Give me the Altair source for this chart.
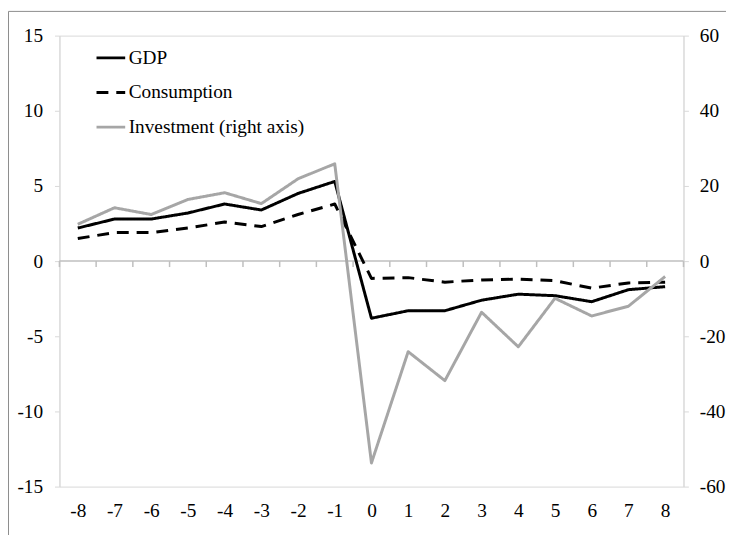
import altair as alt
import pandas as pd

periods = list(range(-8, 9))
gdp = [2.2, 2.8, 2.8, 3.2, 3.8, 3.4, 4.5, 5.3, -3.8, -3.3, -3.3, -2.6, -2.2, -2.3, -2.7, -1.9, -1.7]
consumption = [1.5, 1.9, 1.9, 2.2, 2.6, 2.3, 3.1, 3.8, -1.15, -1.1, -1.4, -1.25, -1.2, -1.3, -1.8, -1.45, -1.4]
investment = [9.8, 14.2, 12.4, 16.4, 18.2, 15.3, 21.9, 25.9, -53.7, -24.1, -31.8, -13.6, -22.8, -9.9, -14.6, -12.0, -4.1]
series_names = ["GDP", "Consumption", "Investment (right axis)"]
left_ticks = [-15, -10, -5, 0, 5, 10, 15]
right_ticks = [-60, -40, -20, 0, 20, 40, 60]
boundaries = [p - 0.5 for p in periods] + [periods[-1] + 0.5]

left_df = pd.DataFrame({
    "period": periods * 2,
    "value": gdp + consumption,
    "series": [series_names[0]] * len(periods) + [series_names[1]] * len(periods),
})
right_df = pd.DataFrame({
    "period": periods,
    "value": investment,
    "series": [series_names[2]] * len(periods),
})
bound_df = pd.DataFrame({"period": boundaries})

FONT = "Liberation Serif"
FS = 19.5
AXIS_GRAY = "#D9D9D9"
ZERO_GRAY = "#BFBFBF"
W, H = 631, 456

xscale = alt.Scale(domain=[-8.5, 8.5], nice=False, zero=False)
x_enc = alt.X("period:Q", scale=xscale, axis=alt.Axis(
    orient="bottom", values=periods, domain=False, ticks=False, grid=False,
    title=None, labelPadding=15, labelFontSize=FS, labelFont=FONT,
    labelColor="#000000", labelFlush=False, labelExpr="datum.value"))

legend_spec = dict(
    orient="none", legendX=36, legendY=6.5, title=None, symbolType="stroke",
    symbolSize=841, symbolStrokeWidth=3, labelFontSize=FS, labelFont=FONT,
    labelColor="#000000", labelOffset=2, rowPadding=9, padding=0, labelLimit=0,
)
color = alt.Color(
    "series:N",
    scale=alt.Scale(domain=series_names, range=["#000000", "#000000", "#A6A6A6"]),
    legend=alt.Legend(**legend_spec),
)
dash = alt.StrokeDash(
    "series:N",
    scale=alt.Scale(domain=series_names, range=[[1, 0], [12, 8], [1, 0]]),
    legend=alt.Legend(**legend_spec),
)

y_left = alt.Y("value:Q", scale=alt.Scale(domain=[-15, 15], nice=False, zero=False),
               axis=alt.Axis(orient="left", values=left_ticks, grid=False, title=None,
                             domainColor=AXIS_GRAY, tickColor=AXIS_GRAY, tickSize=5,
                             labelPadding=12, labelFontSize=FS, labelFont=FONT,
                             labelColor="#000000", labelFlush=False,
                             labelExpr="datum.value"))

# horizontal category axis crossing at zero (zero is the vertical middle of both scales)
zero_line = alt.Chart(pd.DataFrame({"a": [0]})).mark_rule(
    stroke=ZERO_GRAY, strokeWidth=1.5, opacity=1
).encode(
    x=alt.value(0), x2=alt.value(W), y=alt.value(H / 2),
)

zero_ticks = alt.Chart(bound_df).mark_rule(
    stroke=ZERO_GRAY, strokeWidth=1.5, opacity=1
).encode(
    x=x_enc, y=alt.value(H / 2), y2=alt.value(H / 2 + 6),
)

left_lines = alt.Chart(left_df).mark_line(strokeWidth=3, strokeJoin="round").encode(
    x=x_enc, y=y_left, color=color, strokeDash=dash, order="period:Q",
)

right = alt.Chart(right_df).mark_line(strokeWidth=3, strokeJoin="round").encode(
    x=x_enc,
    y=alt.Y("value:Q", scale=alt.Scale(domain=[-60, 60], nice=False, zero=False),
            axis=alt.Axis(orient="right", values=right_ticks, grid=False, title=None,
                          domainColor=AXIS_GRAY, tickColor=AXIS_GRAY, tickSize=5,
                          labelPadding=11, labelFontSize=FS, labelFont=FONT,
                          labelColor="#000000", labelFlush=False,
                          labelExpr="datum.value")),
    color=color,
    strokeDash=dash,
    order="period:Q",
)

border = alt.Chart(pd.DataFrame({"a": [0]})).mark_rect(
    fillOpacity=0, stroke="#8C8C8C", strokeWidth=1
).encode(
    x=alt.value(-51.5), x2=alt.value(W + 200),
    y=alt.value(-24.5), y2=alt.value(H + 200),
)

chart = alt.layer(zero_line, zero_ticks, left_lines, right, border).resolve_scale(
    y="independent"
).properties(
    width=W, height=H,
    autosize=alt.AutoSizeParams(type="none"),
    padding={"left": 52, "top": 25, "right": 43, "bottom": 46},
).configure_view(stroke=AXIS_GRAY)

chart.save("out.html", embed_options={"renderer": "svg", "actions": False})
